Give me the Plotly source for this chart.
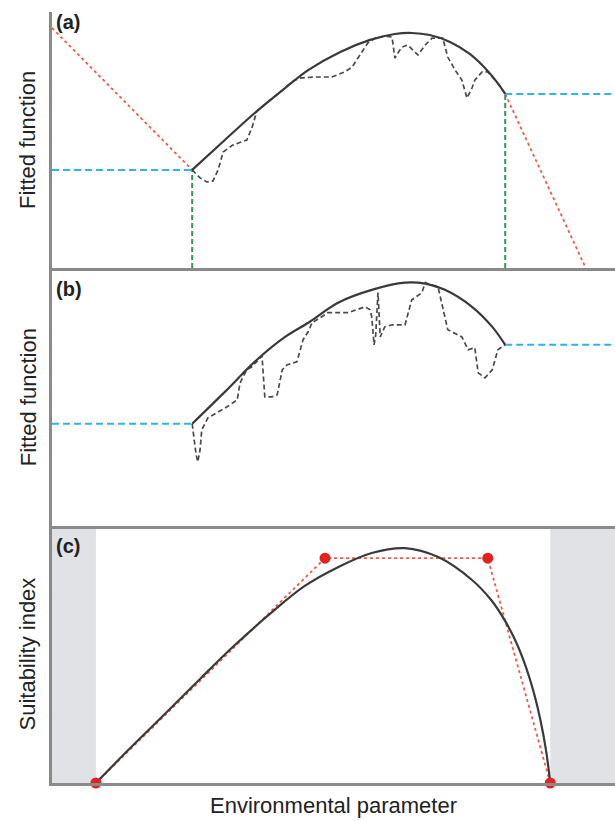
import plotly.graph_objects as go

# ---------------- data (environmental parameter on 0-10 scale, fitted value 0-1) -------------
# Panel (a)
a_fit_x = [2.49, 3.07, 3.64, 4.14, 4.55, 5.12, 5.65, 6.09, 6.39, 6.71, 7.07, 7.42, 7.69, 7.90, 8.05]
a_fit_y = [0.383, 0.50, 0.613, 0.703, 0.773, 0.844, 0.891, 0.914, 0.918, 0.910, 0.883, 0.836, 0.781, 0.727, 0.680]
a_raw_x = [2.49, 2.63, 2.75, 2.86, 2.95, 3.04, 3.21, 3.46, 3.55, 3.64, 4.14, 4.26, 4.40, 4.67, 4.97,
           5.20, 5.33, 5.51, 5.61, 5.74, 5.91, 6.04, 6.09, 6.18, 6.22, 6.32, 6.41, 6.50, 6.63, 6.75,
           6.94, 7.03, 7.16, 7.28, 7.37, 7.46, 7.51, 7.64, 7.74, 7.90, 8.05]
a_raw_y = [0.383, 0.352, 0.336, 0.340, 0.383, 0.453, 0.480, 0.500, 0.547, 0.613, 0.703, 0.727, 0.742, 0.746, 0.746,
           0.766, 0.785, 0.844, 0.879, 0.898, 0.906, 0.902, 0.820, 0.852, 0.863, 0.871, 0.852, 0.832, 0.871, 0.898,
           0.898, 0.824, 0.773, 0.734, 0.664, 0.703, 0.734, 0.766, 0.766, 0.727, 0.680]
a_extrap_left_x = [0.0, 2.49]
a_extrap_left_y = [0.9375, 0.383]
a_extrap_right_x = [8.05, 9.48]
a_extrap_right_y = [0.680, 0.0]
a_const_left_x = [0.0, 2.49]
a_const_left_y = [0.383, 0.383]
a_const_right_x = [8.05, 10.0]
a_const_right_y = [0.680, 0.680]
a_limit_x = [2.49, 8.05]
a_limit_y = [0.383, 0.680]

# Panel (b)
b_fit_x = [2.49, 3.07, 3.64, 4.14, 4.58, 5.08, 5.68, 6.27, 6.63, 6.98, 7.46, 7.82, 8.05]
b_fit_y = [0.397, 0.521, 0.646, 0.735, 0.794, 0.868, 0.918, 0.946, 0.942, 0.918, 0.852, 0.774, 0.704]
b_raw_x = [2.49, 2.52, 2.56, 2.59, 2.63, 2.66, 2.77, 2.93, 3.11, 3.29, 3.34, 3.46, 3.55, 3.73, 3.78,
           3.91, 4.00, 4.09, 4.17, 4.35, 4.46, 4.55, 4.62, 4.76, 4.90, 5.26, 5.56, 5.65, 5.68, 5.72,
           5.75, 5.79, 5.81, 5.83, 5.91, 6.04, 6.27, 6.39, 6.57, 6.63, 6.86, 7.03, 7.28, 7.39, 7.51,
           7.57, 7.69, 7.82, 7.92, 8.05]
b_raw_y = [0.397, 0.335, 0.276, 0.249, 0.296, 0.374, 0.420, 0.440, 0.463, 0.490, 0.556, 0.607, 0.619, 0.661, 0.502,
           0.502, 0.510, 0.607, 0.626, 0.638, 0.724, 0.755, 0.790, 0.809, 0.829, 0.829, 0.852, 0.840, 0.813, 0.704,
           0.743, 0.907, 0.802, 0.735, 0.774, 0.782, 0.782, 0.879, 0.907, 0.946, 0.926, 0.763, 0.735, 0.685, 0.693,
           0.595, 0.576, 0.607, 0.685, 0.704]
b_const_left_x = [0.0, 2.49]
b_const_left_y = [0.397, 0.397]
b_const_right_x = [8.05, 10.0]
b_const_right_y = [0.704, 0.704]

# Panel (c)
c_fit_x = [0.78, 1.39, 2.04, 2.63, 3.21, 3.87, 4.49, 5.08, 5.68, 6.27, 6.86, 7.46, 7.80, 8.05, 8.25,
           8.42, 8.56, 8.68, 8.78, 8.85]
c_fit_y = [0.0, 0.136, 0.276, 0.405, 0.529, 0.658, 0.767, 0.840, 0.895, 0.914, 0.879, 0.790, 0.712, 0.630, 0.545,
           0.450, 0.350, 0.240, 0.120, 0.0]
c_trap_x = [0.78, 4.85, 7.74, 8.85]
c_trap_y = [0.0, 0.875, 0.875, 0.0]
x_range = [0.0, 10.0]

# ---------------- styles ----------------
FIT = dict(color="#3a3a3a", width=2.2)
RAW = dict(color="#4a4a4a", width=1.7, dash="5px,3px")
CYAN = dict(color="#2cb5e6", width=2, dash="7px,4px")
GREEN = dict(color="#2f9a50", width=2, dash="5px,3px")
RED = dict(color="#ef5a4c", width=1.8, dash="dot")
AXC = "#8a8a8a"

fig = go.Figure()

def add(x, y, line, xa, ya, shape="linear"):
    fig.add_trace(go.Scatter(x=x, y=y, mode="lines", line=dict(**line, shape=shape),
                             xaxis=xa, yaxis=ya, showlegend=False, hoverinfo="skip"))

# panel a
add(a_extrap_left_x, a_extrap_left_y, RED, "x", "y")
add(a_extrap_right_x, a_extrap_right_y, RED, "x", "y")
add(a_const_left_x, a_const_left_y, CYAN, "x", "y")
add(a_const_right_x, a_const_right_y, CYAN, "x", "y")
for lx, ly in zip(a_limit_x, a_limit_y):
    add([lx, lx], [0, ly], GREEN, "x", "y")
add(a_raw_x, a_raw_y, RAW, "x", "y")
add(a_fit_x, a_fit_y, FIT, "x", "y", "spline")

# panel b
add(b_const_left_x, b_const_left_y, CYAN, "x2", "y2")
add(b_const_right_x, b_const_right_y, CYAN, "x2", "y2")
add(b_raw_x, b_raw_y, RAW, "x2", "y2")
add(b_fit_x, b_fit_y, FIT, "x2", "y2", "spline")

# panel c
add(c_trap_x, c_trap_y, RED, "x3", "y3")
add(c_fit_x, c_fit_y, FIT, "x3", "y3", "spline")
fig.add_trace(go.Scatter(x=c_trap_x, y=c_trap_y, mode="markers",
                         marker=dict(color="#e3211f", size=11), cliponaxis=False,
                         xaxis="x3", yaxis="y3", showlegend=False, hoverinfo="skip"))

# grey unsuitable zones in (c)
for x0, x1 in [(x_range[0], c_trap_x[0]), (c_trap_x[-1], x_range[1])]:
    fig.add_shape(type="rect", xref="x3", yref="y3 domain", x0=x0, x1=x1, y0=0, y1=1,
                  fillcolor="#e1e2e6", line=dict(width=0), layer="below")

ax = dict(range=x_range, showline=True, linecolor=AXC, linewidth=2.5, showticklabels=False,
          ticks="", showgrid=False, zeroline=False)
ay = dict(range=[0, 1], showline=True, linecolor=AXC, linewidth=2.5, showticklabels=False,
          ticks="", showgrid=False, zeroline=False)

fig.update_layout(
    width=615, height=821,
    margin=dict(l=52, r=0, t=12, b=38),
    paper_bgcolor="white", plot_bgcolor="rgba(0,0,0,0)",
    font=dict(family="Liberation Sans, Arial, sans-serif", color="#222"),
    xaxis=dict(**ax, domain=[0, 1], anchor="y"),
    yaxis=dict(**ay, domain=[0.668, 1.0], anchor="x"),
    xaxis2=dict(**ax, domain=[0, 1], anchor="y2"),
    yaxis2=dict(**ay, domain=[0.3335, 0.667], anchor="x2"),
    xaxis3=dict(**ax, domain=[0, 1], anchor="y3"),
    yaxis3=dict(**ay, domain=[0.0, 0.3333], anchor="x3"),
)

ann = []
for lab, yref, ys in [("(a)", "y domain", 3), ("(b)", "y2 domain", -7), ("(c)", "y3 domain", -7)]:
    ann.append(dict(text="<b>%s</b>" % lab, xref="paper", yref=yref, x=0, y=1, xanchor="left",
                    yanchor="top", xshift=2, yshift=ys, showarrow=False, font=dict(size=20, color="#222")))
for lab, yref in [("Fitted function", "y domain"), ("Fitted function", "y2 domain"),
                  ("Suitability index", "y3 domain")]:
    ann.append(dict(text=lab, xref="paper", yref=yref, x=0, y=0.5, xanchor="center", yanchor="middle",
                    xshift=-24, textangle=-90, showarrow=False, font=dict(size=22, color="#222")))
ann.append(dict(text="Environmental parameter", xref="paper", yref="paper", x=0.5, y=0,
                xanchor="center", yanchor="top", yshift=-8, showarrow=False,
                font=dict(size=22, color="#222")))
fig.update_layout(annotations=ann)

fig.write_html("out.html", config={"displayModeBar": False},
               post_script="document.body.style.margin='0';document.body.style.overflow='hidden';")
